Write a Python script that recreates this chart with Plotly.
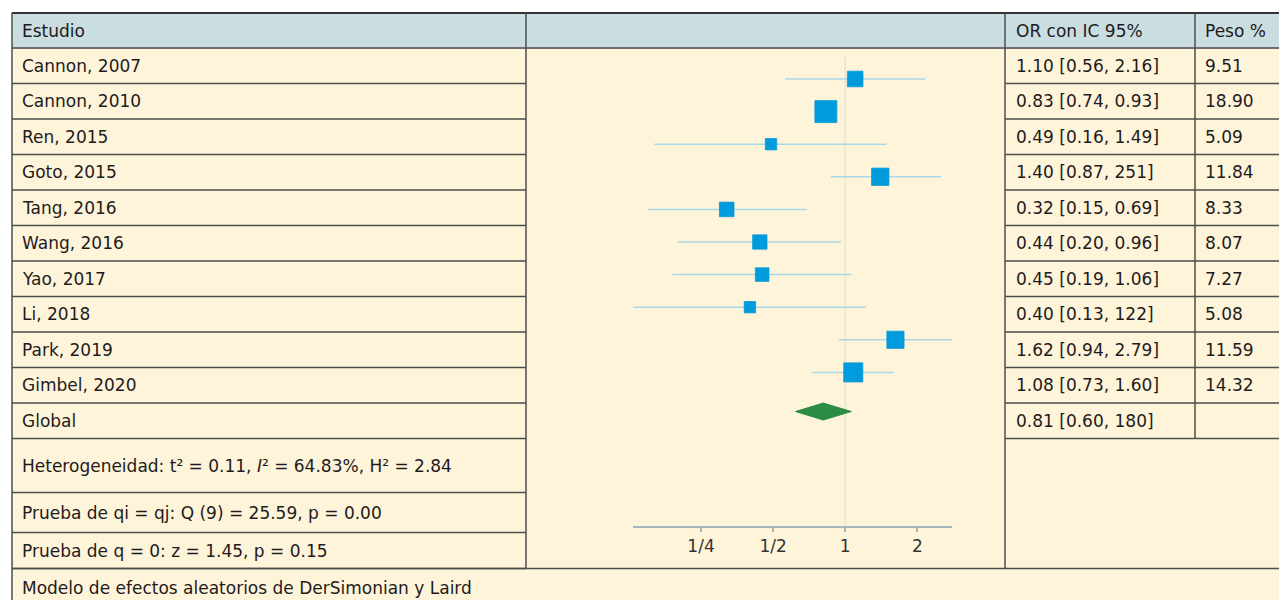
import numpy as np
import plotly.graph_objects as go

# ---------------- data ----------------
studies = ["Cannon, 2007", "Cannon, 2010", "Ren, 2015", "Goto, 2015", "Tang, 2016",
           "Wang, 2016", "Yao, 2017", "Li, 2018", "Park, 2019", "Gimbel, 2020"]
or_est = [1.10, 0.83, 0.49, 1.40, 0.32, 0.44, 0.45, 0.40, 1.62, 1.08]
ci_low = [0.56, 0.74, 0.16, 0.87, 0.15, 0.20, 0.19, 0.13, 0.94, 0.73]
ci_high = [2.16, 0.93, 1.49, 2.51, 0.69, 0.96, 1.06, 1.22, 2.79, 1.60]
weights = [9.51, 18.90, 5.09, 11.84, 8.33, 8.07, 7.27, 5.08, 11.59, 14.32]
or_text = ["1.10 [0.56, 2.16]", "0.83 [0.74, 0.93]", "0.49 [0.16, 1.49]", "1.40 [0.87, 251]",
           "0.32 [0.15, 0.69]", "0.44 [0.20, 0.96]", "0.45 [0.19, 1.06]", "0.40 [0.13, 122]",
           "1.62 [0.94, 2.79]", "1.08 [0.73, 1.60]"]
peso_text = ["9.51", "18.90", "5.09", "11.84", "8.33", "8.07", "7.27", "5.08", "11.59", "14.32"]

overall_label = "Global"
overall_est = 0.81
overall_low = 0.62
overall_high = 1.06
overall_text = "0.81 [0.60, 180]"

tick_vals = [0.25, 0.5, 1, 2]
tick_text = ["1/4", "1/2", "1", "2"]

header = ["Estudio", "OR con IC 95%", "Peso %"]
stats_lines = ["Heterogeneidad: t² = 0.11, <i>I</i>² = 64.83%, H² = 2.84",
               "Prueba de qi = qj: Q (9) = 25.59, p = 0.00",
               "Prueba de q = 0: z = 1.45, p = 0.15"]
footer = "Modelo de efectos aleatorios de DerSimonian y Laird"

# ---------------- layout constants (page pixels) ----------------
OFF = 8                      # default body margin of the html page
FW, FH = 1287 - OFF, 600 - OFF
FONT = "DejaVu Sans"
FS = 17
TXT = "#1e1b1c"
HEAD_BG = "#cadde1"
BODY_BG = "#fef4da"
BORDER = "#4d4d4d"

def px(x):
    return (x - OFF) / FW
def py(y):
    return 1 - (y - OFF) / FH

x_left, x_c1, x_c2, x_c3, x_right = 12, 526, 1005, 1195, 1300
y_top, y_head = 13, 48
row_h = 35.5
n_rows = len(studies) + 1
row_edges = [y_head + row_h * i for i in range(n_rows + 1)]
stats_edges = [row_edges[-1], row_edges[-1] + 54, row_edges[-1] + 94, row_edges[-1] + 130]
y_foot = stats_edges[-1]
y_bottom = 620

# forest plot geometry (page pixels)
plot_top_px, axis_px = 50, 526
first_px, pitch = 79, 32.6
ax_left_px, ax_right_px = 633, 952
ypos = list(range(len(studies)))
ypos_overall = len(studies) + 0.2
y_range = [(axis_px - first_px) / pitch, (plot_top_px - first_px) / pitch]

xmin, xmax = min(ci_low), max(ci_high)

fig = go.Figure()

cx, cy = [], []
for lo, hi, y in zip(ci_low, ci_high, ypos):
    cx += [lo, hi, None]
    cy += [y, y, None]
fig.add_trace(go.Scatter(x=[1, 1], y=[y_range[1] + 0.15, y_range[0]], mode="lines",
                         line=dict(color="#ebe4d6", width=1.5), hoverinfo="skip", showlegend=False))
fig.add_trace(go.Scatter(x=cx, y=cy, mode="lines", line=dict(color="#abd8e8", width=1.5),
                         hoverinfo="skip", showlegend=False))
fig.add_trace(go.Scatter(x=or_est, y=ypos, mode="markers", opacity=1,
                         marker=dict(symbol="square", color="#009bdc", opacity=1,
                                     size=[5.05 * np.sqrt(w) for w in weights],
                                     line=dict(width=0.8, color="#0a9ad8")),
                         showlegend=False, text=studies))
dh = 0.26
fig.add_trace(go.Scatter(x=[overall_low, overall_est, overall_high, overall_est, overall_low],
                         y=[ypos_overall, ypos_overall - dh, ypos_overall, ypos_overall + dh, ypos_overall],
                         mode="lines", fill="toself", fillcolor="#2b8c45",
                         line=dict(color="#2b8c45", width=1), showlegend=False))

fig.update_layout(
    width=FW, height=FH, margin=dict(l=0, r=0, t=0, b=0),
    paper_bgcolor="white", plot_bgcolor="rgba(0,0,0,0)",
    font=dict(family=FONT, color=TXT, size=FS),
    xaxis=dict(type="log", range=[np.log10(xmin), np.log10(xmax)],
               domain=[px(ax_left_px), px(ax_right_px)], tickvals=tick_vals, ticktext=tick_text,
               showgrid=False, zeroline=False, showline=True, linecolor="#a3b7bc", linewidth=1.5,
               ticks="outside", ticklen=4, tickcolor="#a3b7bc", tickwidth=1.5,
               tickfont=dict(family=FONT, size=FS, color="#333333")),
    yaxis=dict(range=y_range, domain=[py(axis_px), py(plot_top_px)],
               visible=False, showgrid=False, zeroline=False),
)

shapes = []
def rect(x0, y0, x1, y1, fill):
    shapes.append(dict(type="rect", xref="paper", yref="paper", x0=px(x0), y0=py(y0),
                       x1=px(x1), y1=py(y1), fillcolor=fill, line=dict(width=0), layer="below"))
def hline(x0, x1, y, color=BORDER, w=1.5):
    shapes.append(dict(type="line", xref="paper", yref="paper", x0=px(x0), x1=px(x1),
                       y0=py(y), y1=py(y), line=dict(color=color, width=w), layer="above"))
def vline(x, y0, y1, color=BORDER, w=1.5):
    shapes.append(dict(type="line", xref="paper", yref="paper", x0=px(x), x1=px(x),
                       y0=py(y0), y1=py(y1), line=dict(color=color, width=w), layer="above"))

rect(x_left, y_top, x_right, y_bottom, BODY_BG)
rect(x_left, y_top, x_right, y_head, HEAD_BG)
hline(x_left, x_right, y_top, "#333333", 2)
hline(x_left, x_right, y_head, "#6f6f6f", 2)
for y in row_edges[1:]:
    hline(x_left, x_c1, y)
    hline(x_c2, x_right, y)
for y in stats_edges[1:]:
    hline(x_left, x_c1, y)
hline(x_left, x_right, y_foot)
vline(x_left, y_top, y_bottom)
vline(x_c1, y_top, y_foot)
vline(x_c2, y_top, y_foot)
vline(x_c3, y_top, row_edges[-1])
fig.update_layout(shapes=shapes)

ann = []
def text(x, y, s):
    ann.append(dict(x=px(x), y=py(y), xref="paper", yref="paper", text=s, showarrow=False,
                    xanchor="left", yanchor="middle", font=dict(family=FONT, size=FS, color=TXT)))

hy = (y_top + y_head) / 2
text(20, hy, header[0])
text(1014, hy, header[1])
text(1203, hy, header[2])
labels = studies + [overall_label]
ors = or_text + [overall_text]
pes = peso_text + [""]
for i in range(n_rows):
    cyy = (row_edges[i] + row_edges[i + 1]) / 2
    text(20, cyy, labels[i])
    text(1014, cyy, ors[i])
    if pes[i]:
        text(1203, cyy, pes[i])
for i, s in enumerate(stats_lines):
    text(20, (stats_edges[i] + stats_edges[i + 1]) / 2, s)
text(20, 588, footer)
fig.update_layout(annotations=ann)

fig.write_html("out.html")
